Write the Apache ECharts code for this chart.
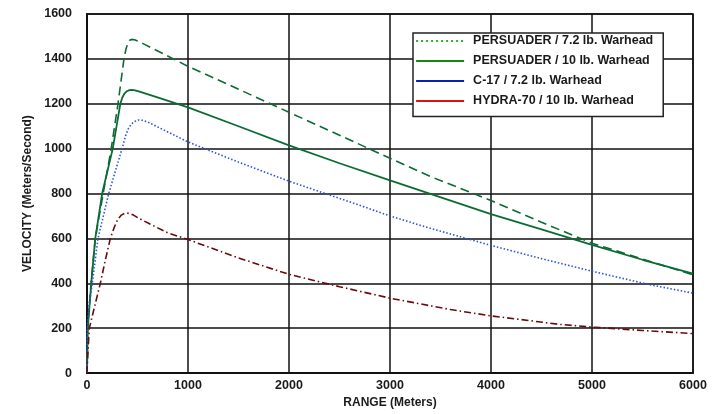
<!DOCTYPE html>
<html>
<head>
<meta charset="utf-8">
<script src="https://cdn.jsdelivr.net/npm/echarts@6/dist/echarts.min.js"></script>
<style>
  html, body { margin: 0; padding: 0; background: #fff; }
  #chart { width: 715px; height: 414px; }
</style>
</head>
<body>
<div id="chart"></div>
<script>
// ---- data ----
const seriesNames = [
  'PERSUADER / 7.2 lb. Warhead',
  'PERSUADER / 10 lb. Warhead',
  'C-17 / 7.2 lb. Warhead',
  'HYDRA-70 / 10 lb. Warhead'
];

const persuader72Range    = [0, 8, 40, 82, 160, 240, 307, 366, 385, 402, 420, 440, 470, 510, 560, 740, 1000, 1500, 2000, 2500, 3000, 3400, 4000, 4500, 5000, 5500, 6000];
const persuader72Velocity = [0, 200, 400, 600, 800, 1000, 1200, 1400, 1442, 1468, 1482, 1487, 1485, 1478, 1467, 1426, 1367, 1265, 1162, 1060, 957, 876, 769, 672, 579, 508, 438];

const persuader10Range    = [0, 8, 42, 82, 150, 255, 330, 350, 370, 395, 420, 445, 475, 520, 721, 1000, 1500, 2000, 2500, 3000, 3400, 4000, 4500, 5000, 5500, 6000];
const persuader10Velocity = [0, 200, 400, 600, 800, 1000, 1200, 1228, 1245, 1256, 1261, 1262, 1260, 1254, 1225, 1184, 1100, 1015, 935, 859, 799, 708, 640, 571, 505, 443];

const c17Range    = [0, 2, 20, 52, 109, 215, 347, 380, 410, 440, 475, 512, 550, 600, 721, 1000, 1500, 2000, 2750, 3000, 3400, 4000, 4500, 5000, 5540, 6000];
const c17Velocity = [0, 190, 300, 400, 600, 800, 1000, 1055, 1090, 1110, 1122, 1128, 1126, 1119, 1092, 1030, 940, 855, 740, 700, 645, 569, 510, 454, 397, 356];

const hydraRange    = [0, 5, 23, 77, 132, 180, 231, 270, 305, 340, 370, 395, 425, 460, 520, 624, 800, 1000, 1500, 2000, 2500, 3000, 3600, 4000, 4680, 5000, 5500, 6000];
const hydraVelocity = [0, 60, 200, 300, 400, 500, 600, 650, 685, 704, 711, 713, 711, 704, 688, 664, 625, 595, 513, 440, 385, 334, 283, 255, 217, 205, 190, 176];

const xTicks = [0, 1000, 2000, 3000, 4000, 5000, 6000];
const yTicks = [0, 200, 400, 600, 800, 1000, 1200, 1400, 1600];

// ---- build ----
function zip(xs, ys) { return xs.map((x, i) => [x, ys[i]]); }

const FONT = '"Liberation Sans", Arial, Helvetica, sans-serif';
const TXT = '#1a1a1a';

const lineDefs = [
  { data: zip(persuader72Range, persuader72Velocity), color: '#0b6b35', type: [9, 5], width: 1.6 },
  { data: zip(persuader10Range, persuader10Velocity), color: '#0b6b35', type: 'solid', width: 1.8 },
  { data: zip(c17Range, c17Velocity), color: '#2a55dd', type: [1.5, 2], width: 1.6 },
  { data: zip(hydraRange, hydraVelocity), color: '#6b0a0a', type: [7, 3, 1.5, 3], width: 1.6 }
];

const legendStyles = [
  { color: '#33aa33', type: [2, 3] },
  { color: '#118811', type: 'solid' },
  { color: '#0a22aa', type: 'solid' },
  { color: '#dd1111', type: 'solid' }
];

const chart = echarts.init(document.getElementById('chart'), null, { renderer: 'canvas' });

chart.setOption({
  animation: false,
  backgroundColor: '#fff',
  textStyle: { fontFamily: FONT },
  grid: {
    left: 87, right: 22, top: 14, bottom: 36.5,
    show: true, borderColor: '#111', borderWidth: 1.5, backgroundColor: 'transparent'
  },
  legend: {
    orient: 'vertical',
    left: 413, top: 33,
    padding: [1.5, 10, 9, 2],
    itemWidth: 48, itemHeight: 14, itemGap: 7,
    backgroundColor: '#fff',
    borderColor: '#222', borderWidth: 1.5,
    textStyle: { fontFamily: FONT, fontWeight: 'bold', fontSize: 12.5, color: TXT, padding: [0, 0, 0, 4] },
    data: seriesNames.map((n, i) => ({
      name: n,
      lineStyle: { color: legendStyles[i].color, type: legendStyles[i].type, width: 2.2 },
      itemStyle: { color: legendStyles[i].color, opacity: 0 }
    }))
  },
  xAxis: {
    type: 'value',
    min: xTicks[0], max: xTicks[xTicks.length - 1], interval: 1000,
    name: 'RANGE (Meters)', nameLocation: 'middle', nameGap: 22,
    nameTextStyle: { fontFamily: FONT, fontWeight: 'bold', fontSize: 12, color: TXT },
    axisLine: { show: true, lineStyle: { color: '#111', width: 2 } },
    axisTick: { show: false },
    axisLabel: { fontFamily: FONT, fontWeight: 'bold', fontSize: 12.5, color: TXT, margin: 6,
                 formatter: v => String(v) },
    splitLine: { show: true, lineStyle: { color: '#111', width: 1.5 } }
  },
  yAxis: {
    type: 'value',
    min: yTicks[0], max: yTicks[yTicks.length - 1], interval: 200,
    name: 'VELOCITY (Meters/Second)', nameLocation: 'middle', nameGap: 53, nameRotate: 90,
    nameTextStyle: { fontFamily: FONT, fontWeight: 'bold', fontSize: 12, color: TXT },
    axisLine: { show: true, lineStyle: { color: '#111', width: 2 } },
    axisTick: { show: false },
    axisLabel: { fontFamily: FONT, fontWeight: 'bold', fontSize: 12.5, color: TXT, margin: 15,
                 formatter: v => String(v) },
    splitLine: { show: true, lineStyle: { color: '#111', width: 1.5 } }
  },
  series: lineDefs.map((d, i) => ({
    name: seriesNames[i],
    type: 'line',
    data: d.data,
    symbol: 'none',
    smooth: false,
    clip: true,
    color: d.color,
    lineStyle: { color: d.color, type: d.type, width: d.width },
    z: 3
  }))
});
</script>
</body>
</html>
